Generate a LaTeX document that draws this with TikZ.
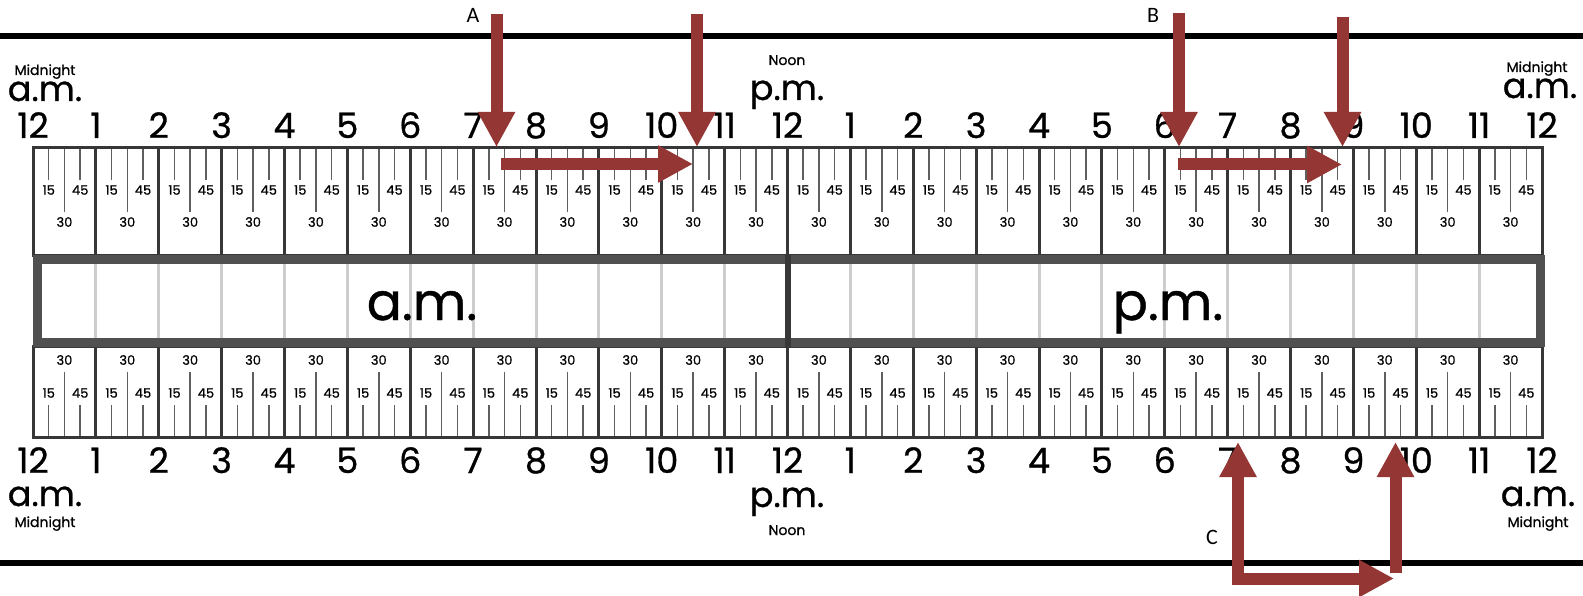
\documentclass[tikz,border=0pt]{standalone}
\usepackage{fontspec}
\setmainfont{Poppins}[FakeBold=0.8]
\newfontfamily\calib{Carlito}
\usetikzlibrary{arrows.meta}
\definecolor{arrowred}{RGB}{148,54,52}
\definecolor{rulerdark}{RGB}{55,55,55}
\definecolor{bandgray}{RGB}{80,80,80}
\definecolor{lightline}{RGB}{205,205,205}
\definecolor{tickgray}{RGB}{95,95,95}
\begin{document}
\begin{tikzpicture}[x=1pt,y=-1pt,
  hourlbl/.style={font=\fontsize{35}{35}\selectfont, anchor=base, inner sep=0pt},
  ampm/.style={font=\fontsize{35}{35}\selectfont, anchor=base, inner sep=0pt},
  smalllbl/.style={font=\fontsize{14}{14}\selectfont, anchor=base, inner sep=0pt},
  minlbl/.style={font=\fontsize{13}{13}\selectfont, inner sep=0pt},
  bandlbl/.style={font=\fontsize{52}{52}\selectfont, anchor=base, inner sep=0pt},
  letter/.style={font=\calib\fontsize{22}{22}\selectfont, inner sep=0pt},
  border/.style={draw=rulerdark, line width=3pt},
  hourline/.style={rulerdark, line width=3pt},
  tick/.style={tickgray, line width=1.5pt},
  bigarrow/.style={arrowred, line width=12pt, -{Triangle[width=35pt,length=35pt]}}
]
\path[use as bounding box] (0,0) rectangle (1583,596);
\fill[white] (0,0) rectangle (1583,596);

% black rules
\draw[line width=6pt] (0,36) -- (1583,36);
\draw[line width=6pt] (0,563) -- (1583,563);

\pgfmathsetmacro{\w}{62.875}
% ticks and minute labels
\foreach \i in {0,...,23}{
  \pgfmathsetmacro{\xa}{33+\i*\w}
  \pgfmathsetmacro{\xq}{\xa+\w/4}
  \pgfmathsetmacro{\xh}{\xa+\w/2}
  \pgfmathsetmacro{\xt}{\xa+3*\w/4}
  % top ruler
  \draw[tick] (\xq,149) -- (\xq,180);
  \draw[tick] (\xt,149) -- (\xt,180);
  \draw[tick] (\xh,149) -- (\xh,212);
  \node[minlbl] (tq\i) at (\xq,190) {15};
  \node[minlbl] (tt\i) at (\xt,190) {45};
  \node[minlbl] (th\i) at (\xh,222) {30};
  % bottom ruler
  \draw[tick] (\xq,405) -- (\xq,436);
  \draw[tick] (\xt,405) -- (\xt,436);
  \draw[tick] (\xh,372) -- (\xh,436);
  \node[minlbl] (bq\i) at (\xq,393) {15};
  \node[minlbl] (bt\i) at (\xt,393) {45};
  \node[minlbl] (bh\i) at (\xh,360) {30};
}
% hour boundaries
\foreach \i in {1,...,23}{
  \pgfmathsetmacro{\xa}{33+\i*\w}
  \draw[hourline] (\xa,148) -- (\xa,256);
  \draw[hourline] (\xa,346) -- (\xa,437);
  \draw[lightline, line width=3pt] (\xa,262) -- (\xa,341);
}
\draw[border] (33,148) rectangle (1542,256);
\draw[border] (33,346) rectangle (1542,437);
% middle band
\draw[bandgray, line width=9pt] (37.5,260) rectangle (1540.5,342.5);
\draw[rulerdark, line width=6pt] (787.5,255) -- (787.5,347);
\node[bandlbl] (bandam) at (422,320) {a.m.};
\node[bandlbl] (bandpm) at (1168,320) {p.m.};

% hour labels
\foreach \i/\t in {0/12,1/1,2/2,3/3,4/4,5/5,6/6,7/7,8/8,9/9,10/10,11/11,12/12,13/1,14/2,15/3,16/4,17/5,18/6,19/7,20/8,21/9,22/10,23/11,24/12}{
  \pgfmathsetmacro{\xa}{33+\i*\w}
  \node[hourlbl] (ht\i) at (\xa,138) {\t};
  \node[hourlbl] (hb\i) at (\xa,473) {\t};
}
% corner labels
\node[smalllbl] (mtl) at (45,75) {Midnight};
\node[ampm] (amtl) at (45,101) {a.m.};
\node[smalllbl] (mtr) at (1537,72) {Midnight};
\node[ampm] (amtr) at (1540,98) {a.m.};
\node[smalllbl] (ntop) at (787,65) {Noon};
\node[ampm] (pmtop) at (787,100) {p.m.};
\node[ampm] (ambl) at (45,506) {a.m.};
\node[smalllbl] (mbl) at (45,527) {Midnight};
\node[ampm] (ambr) at (1538,506) {a.m.};
\node[smalllbl] (mbr) at (1538,527) {Midnight};
\node[ampm] (pmbot) at (787,507) {p.m.};
\node[smalllbl] (nbot) at (787,535) {Noon};

% letters
\node[letter] (lA) at (473,15) {A};
\node[letter] (lB) at (1153,15) {B};
\node[letter] (lC) at (1212,537) {C};

% arrow coordinates
\coordinate (a1s) at (496.5,14);  \coordinate (a1e) at (496.5,147);
\coordinate (a2s) at (697,14);    \coordinate (a2e) at (697,147);
\coordinate (a3s) at (501,164);   \coordinate (a3e) at (693,164);
\coordinate (b1s) at (1179,13);   \coordinate (b1e) at (1179,147);
\coordinate (b2s) at (1342.5,17); \coordinate (b2e) at (1342.5,147);
\coordinate (b3s) at (1178,164.5);\coordinate (b3e) at (1342,164.5);
\coordinate (c1s) at (1238,584);  \coordinate (c1e) at (1238,442);
\coordinate (c2s) at (1232,578.5);\coordinate (c2e) at (1394,578.5);
\coordinate (c3s) at (1395.5,573);\coordinate (c3e) at (1395.5,442);

\draw[bigarrow] (a1s) -- (a1e);
\draw[bigarrow] (a2s) -- (a2e);
\draw[bigarrow] (a3s) -- (a3e);
\draw[bigarrow] (b1s) -- (b1e);
\draw[bigarrow] (b2s) -- (b2e);
\draw[bigarrow] (b3s) -- (b3e);
\draw[bigarrow] (c1s) -- (c1e);
\draw[bigarrow] (c2s) -- (c2e);
\draw[bigarrow] (c3s) -- (c3e);
\end{tikzpicture}
\end{document}
